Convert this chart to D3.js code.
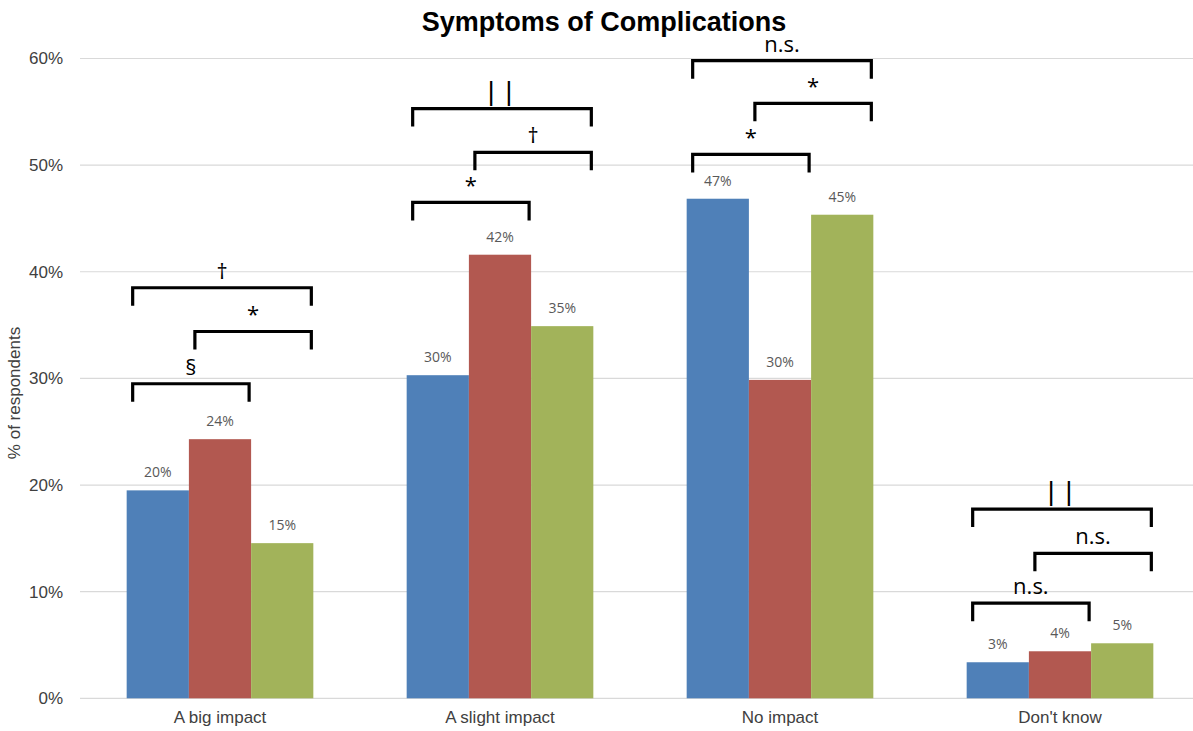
<!DOCTYPE html>
<html>
<head>
<meta charset="utf-8">
<script src="https://cdn.jsdelivr.net/npm/d3@7"></script>
<style>
  html, body { margin: 0; padding: 0; background: #fff; }
  svg { display: block; }
  .marks text { opacity: 0.995; }
</style>
</head>
<body>
<svg id="chart" width="1193" height="731"></svg>
<script>
// Response categories along the x axis
const categories = ["A big impact", "A slight impact", "No impact", "Don't know"];

// Percentage of respondents per group (three groups, one bar each per category)
const seriesBlue  = [19.5, 30.3, 46.85, 3.38];
const seriesRed   = [24.3, 41.6, 29.86, 4.41];
const seriesGreen = [14.55, 34.9, 45.35, 5.16];

// Y axis ticks (percent)
const yTicks = [0, 10, 20, 30, 40, 50, 60];

// Significance brackets: category index, first and last bar index, bracket level (%), marker
const bracketCategory = [0, 0, 0, 1, 1, 1, 2, 2, 2, 3, 3, 3];
const bracketFrom     = [0, 1, 0, 0, 1, 0, 0, 1, 0, 0, 1, 0];
const bracketTo       = [2, 2, 1, 2, 2, 1, 2, 2, 1, 2, 2, 1];
const bracketLevel    = [38.5, 34.4, 29.5, 55.3, 51.2, 46.5, 59.8, 55.8, 51.0, 17.75, 13.6, 8.92];
const bracketMarker   = ["†", "*", "§", "||", "†", "*", "n.s.", "*", "*", "||", "n.s.", "n.s."];

const colors = ["#4f80b8", "#b25850", "#a2b35a"];
const seriesList = [seriesBlue, seriesRed, seriesGreen];

const svg = d3.select("#chart");
const W = 1193;
const plotLeft = 80, plotBottom = 698.3, plotTop = 58.5;

const x0 = d3.scaleBand()
  .domain(categories)
  .range([plotLeft, plotLeft + 1120])
  .paddingInner(1 / 3)
  .paddingOuter(1 / 6);

const x1 = d3.scaleBand()
  .domain(d3.range(seriesList.length))
  .range([0, x0.bandwidth()]);

const y = d3.scaleLinear().domain([0, 60]).range([plotBottom, plotTop]);

// Horizontal gridlines
svg.append("g")
  .selectAll("line")
  .data(yTicks)
  .join("line")
  .attr("x1", plotLeft)
  .attr("x2", W)
  .attr("y1", d => y(d))
  .attr("y2", d => y(d))
  .attr("stroke", "#d9d9d9")
  .attr("stroke-width", 1.2);

// Y axis labels
const yAxis = d3.axisLeft(y).tickValues(yTicks).tickFormat(d => d + "%").tickSize(0).tickPadding(0);
const yg = svg.append("g").attr("transform", `translate(63,0)`).call(yAxis);
yg.select(".domain").remove();
yg.selectAll("text")
  .attr("font-family", "'Liberation Sans', Arial, sans-serif")
  .attr("font-size", 17)
  .attr("fill", "#404040");

// X axis labels
const xAxis = d3.axisBottom(x0).tickSize(0).tickPadding(0);
const xg = svg.append("g").attr("transform", `translate(0,${plotBottom})`).call(xAxis);
xg.select(".domain").remove();
xg.selectAll("text")
  .attr("dy", null)
  .attr("y", 24.5)
  .attr("font-family", "'Liberation Sans', Arial, sans-serif")
  .attr("font-size", 17)
  .attr("fill", "#404040");

// Bars
const rows = [];
categories.forEach((c, ci) => {
  seriesList.forEach((s, si) => rows.push({ cat: c, si, value: s[ci] }));
});

svg.append("g")
  .selectAll("rect")
  .data(rows)
  .join("rect")
  .attr("x", d => x0(d.cat) + x1(d.si))
  .attr("y", d => y(d.value))
  .attr("width", x1.bandwidth())
  .attr("height", d => y(0) - y(d.value))
  .attr("fill", d => colors[d.si]);

// Value labels
svg.append("g")
  .selectAll("text")
  .data(rows)
  .join("text")
  .attr("x", d => x0(d.cat) + x1(d.si) + x1.bandwidth() / 2)
  .attr("y", d => y(d.value) - 13)
  .attr("text-anchor", "middle")
  .attr("font-family", "'Open Sans', sans-serif")
  .attr("font-size", 14)
  .attr("fill", "#595959")
  .text(d => Math.round(d.value) + "%");

// Significance brackets
const tickLen = 18;
const brackets = bracketCategory.map((ci, i) => {
  const cat = categories[ci];
  const xa = x0(cat) + x1(bracketFrom[i]) + 6;
  const xb = x0(cat) + x1(bracketTo[i]) + x1.bandwidth() - 2;
  return { xa, xb, yy: y(bracketLevel[i]), marker: bracketMarker[i] };
});

const bg = svg.append("g").attr("class", "marks");
bg.selectAll("path")
  .data(brackets)
  .join("path")
  .attr("d", d => `M${d.xa},${d.yy + tickLen}V${d.yy}H${d.xb}V${d.yy + tickLen}`)
  .attr("fill", "none")
  .attr("stroke", "#000")
  .attr("stroke-width", 3.2);

bg.selectAll("text")
  .data(brackets)
  .join("text")
  .attr("x", d => (d.xa + d.xb) / 2)
  .attr("y", d => d.yy - 9)
  .attr("text-anchor", "middle")
  .attr("font-family", "'Open Sans', sans-serif")
  .attr("font-size", d => d.marker === "||" ? 25 : 22)
  .attr("font-weight", d => d.marker === "||" ? 600 : 400)
  .attr("letter-spacing", d => d.marker === "||" ? 4 : 0)
  .attr("fill", "#000")
  .text(d => d.marker);

// Y axis title
svg.append("text")
  .attr("transform", `translate(20,393) rotate(-90)`)
  .attr("text-anchor", "middle")
  .attr("font-family", "'Liberation Sans', Arial, sans-serif")
  .attr("font-size", 17)
  .attr("fill", "#404040")
  .text("% of respondents");

// Chart title
svg.append("text")
  .attr("x", 604)
  .attr("y", 31)
  .attr("text-anchor", "middle")
  .attr("font-family", "'Liberation Sans', Arial, sans-serif")
  .attr("font-weight", "bold")
  .attr("font-size", 27)
  .attr("fill", "#000")
  .text("Symptoms of Complications");
</script>
</body>
</html>
